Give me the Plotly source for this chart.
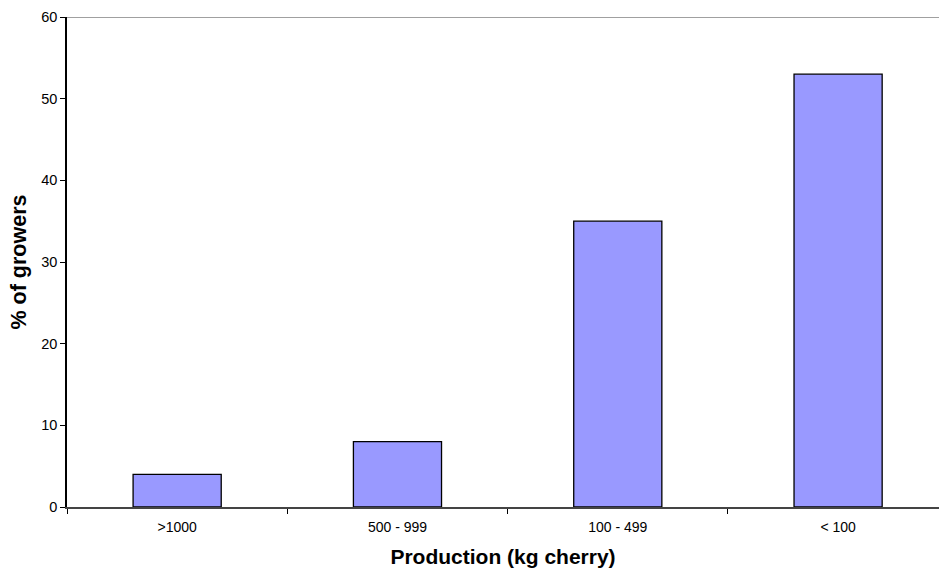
import plotly.graph_objects as go

categories = [">1000", "500 - 999", "100 - 499", "< 100"]
growers_pct = [4, 8, 35, 53]
y_ticks = [0, 10, 20, 30, 40, 50, 60]

fig = go.Figure(
    go.Bar(
        x=categories,
        y=growers_pct,
        width=0.4,
        marker=dict(color="#9999FF", line=dict(color="#000000", width=1.3)),
    )
)

fig.update_layout(
    width=939,
    height=569,
    margin=dict(l=67, r=0, t=17, b=62),
    paper_bgcolor="white",
    plot_bgcolor="white",
    showlegend=False,
    font=dict(family="Liberation Sans, Arial, sans-serif", color="#000000"),
)

fig.update_xaxes(
    type="category",
    range=[-0.5, 3.458],
    tickson="boundaries",
    ticks="outside",
    ticklen=5,
    tickcolor="#000000",
    tickwidth=1,
    showline=True,
    linecolor="#444444",
    linewidth=2,
    showgrid=False,
    tickfont=dict(size=14),
    ticklabelstandoff=6,
    title=dict(
        text="<b>Production (kg cherry)</b>",
        font=dict(size=21),
        standoff=16,
    ),
)

fig.update_yaxes(
    range=[0, 60],
    tickvals=y_ticks,
    ticks="outside",
    ticklen=5,
    tickcolor="#000000",
    showline=True,
    linecolor="#000000",
    linewidth=1.5,
    showgrid=False,
    zeroline=False,
    tickfont=dict(size=14.5),
    title=dict(
        text="<b>% of growers</b>",
        font=dict(size=21.5),
        standoff=9,
    ),
)

# thin gray frame line along the top of the plotting area
fig.add_shape(
    type="line",
    xref="paper",
    yref="y",
    x0=0,
    x1=1,
    y0=60,
    y1=60,
    line=dict(color="#808080", width=1.5),
)

fig.write_html("out.html")
